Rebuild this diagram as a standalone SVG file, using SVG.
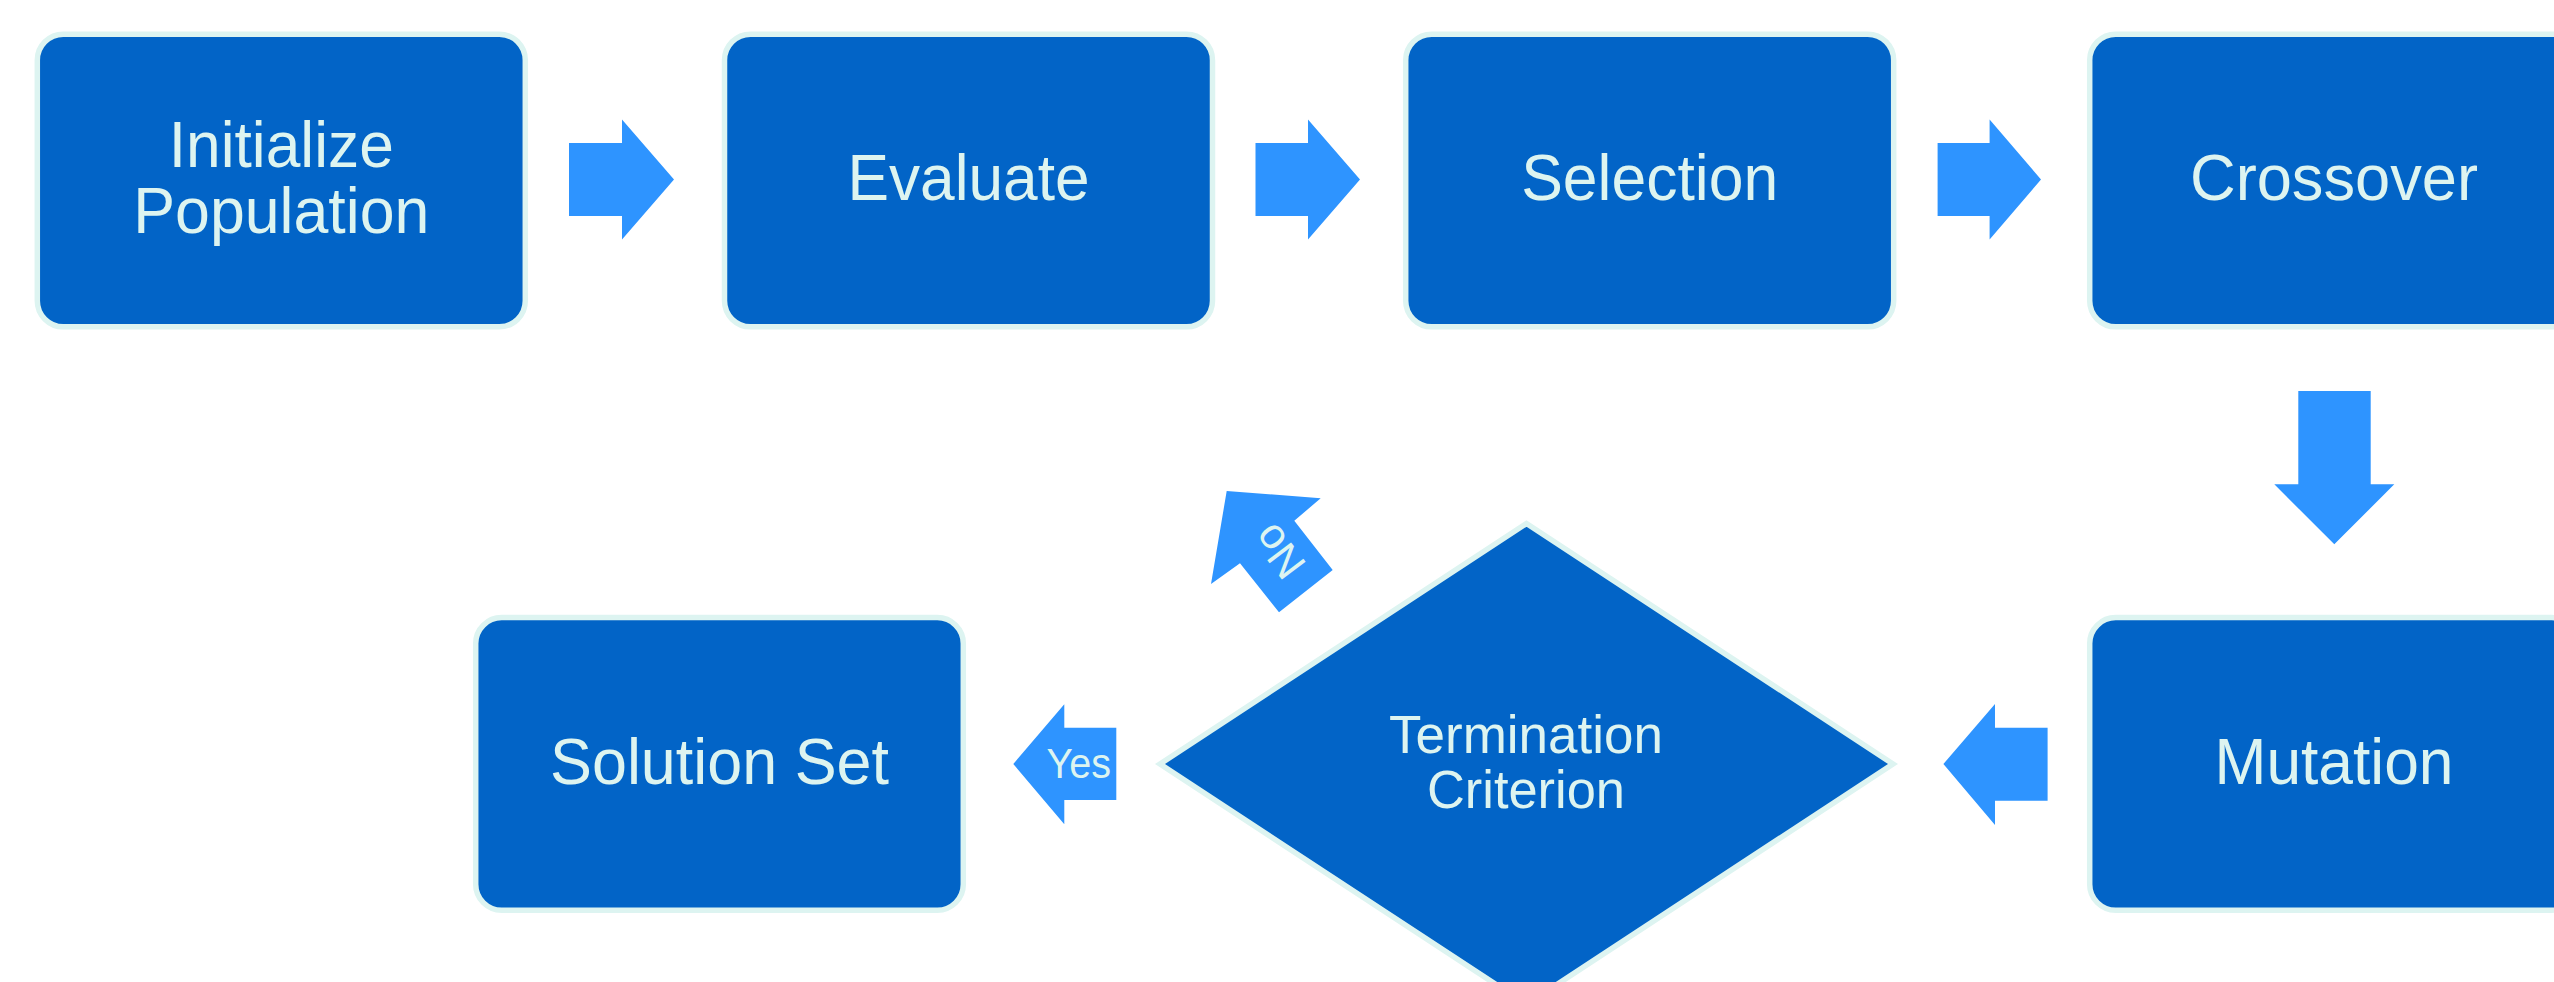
<svg xmlns="http://www.w3.org/2000/svg" width="2554" height="982" viewBox="0 0 2554 982">
  <style>
    .box { fill: #0264C7; stroke: #DDF4F1; stroke-width: 5.5; }
    .arrow { fill: #2E94FF; stroke: none; }
    .lbl { fill: #DDF4F0; font-family: "Liberation Sans", Arial, sans-serif; font-size: 65px; text-anchor: middle; }
    .dlbl { fill: #DDF4F0; font-family: "Liberation Sans", Arial, sans-serif; font-size: 54px; text-anchor: middle; }
    .albl { fill: #DDF4F0; font-family: "Liberation Sans", Arial, sans-serif; font-size: 43px; }
  </style>
  <rect x="0" y="0" width="2554" height="982" fill="#FFFFFF"/>

  <g id="connectors">
    <polygon class="arrow" points="569,143 622,143 622,119.5 674,179.5 622,239.5 622,216 569,216"/>
    <polygon class="arrow" points="1255.5,143 1308,143 1308,119.5 1360,179.5 1308,239.5 1308,216 1255.5,216"/>
    <polygon class="arrow" points="1937.6,143 1989.6,143 1989.6,119.5 2041,179.5 1989.6,239.5 1989.6,216 1937.6,216"/>
    <polygon class="arrow" points="2298.3,391 2370.7,391 2370.7,484.3 2394.3,484.3 2334.3,544.3 2274.3,484.3 2298.3,484.3"/>
    <polygon class="arrow" points="2047.6,727.7 1995,727.7 1995,704 1943.4,764 1995,825 1995,800.7 2047.6,800.7"/>
    <g id="edge-yes">
      <polygon class="arrow" points="1116.3,727.7 1064.3,727.7 1064.3,704.3 1013.3,764 1064.3,824.3 1064.3,800 1116.3,800"/>
      <text class="albl" x="1046.5" y="778.3" textLength="64.5" lengthAdjust="spacingAndGlyphs">Yes</text>
    </g>
    <g id="edge-no">
      <polygon class="arrow" points="1226.7,491 1320.7,498.3 1294.3,520.7 1332.7,570 1279,612.3 1240,563.3 1211,584"/>
      <g transform="translate(1279,551.5) rotate(-127)">
        <text class="albl" x="0" y="15" text-anchor="middle">No</text>
      </g>
    </g>
  </g>

  <g id="node-initialize">
    <rect class="box" x="37.3" y="34.2" width="488" height="292.6" rx="26" ry="26"/>
    <text class="lbl" x="281.3" y="167" textLength="225" lengthAdjust="spacingAndGlyphs">Initialize</text>
    <text class="lbl" x="281.3" y="233" textLength="296" lengthAdjust="spacingAndGlyphs">Population</text>
  </g>
  <g id="node-evaluate">
    <rect class="box" x="724.5" y="34.2" width="488" height="292.6" rx="26" ry="26"/>
    <text class="lbl" x="968.5" y="200" textLength="242" lengthAdjust="spacingAndGlyphs">Evaluate</text>
  </g>
  <g id="node-selection">
    <rect class="box" x="1405.7" y="34.2" width="488" height="292.6" rx="26" ry="26"/>
    <text class="lbl" x="1649.7" y="200" textLength="257" lengthAdjust="spacingAndGlyphs">Selection</text>
  </g>
  <g id="node-crossover">
    <rect class="box" x="2089.7" y="34.2" width="488" height="292.6" rx="26" ry="26"/>
    <text class="lbl" x="2334" y="200" textLength="288" lengthAdjust="spacingAndGlyphs">Crossover</text>
  </g>
  <g id="node-mutation">
    <rect class="box" x="2089.7" y="617.6" width="488" height="292.6" rx="26" ry="26"/>
    <text class="lbl" x="2334" y="784" textLength="239" lengthAdjust="spacingAndGlyphs">Mutation</text>
  </g>
  <g id="node-termination">
    <polygon class="box" points="1526.5,523.5 1893,764 1526.5,1004.5 1160,764"/>
    <text class="dlbl" x="1526" y="753.3" textLength="274" lengthAdjust="spacingAndGlyphs">Termination</text>
    <text class="dlbl" x="1526" y="808.3" textLength="198" lengthAdjust="spacingAndGlyphs">Criterion</text>
  </g>
  <g id="node-solution">
    <rect class="box" x="475.7" y="617.6" width="487.6" height="292.6" rx="26" ry="26"/>
    <text class="lbl" x="719.5" y="784" textLength="339" lengthAdjust="spacingAndGlyphs">Solution Set</text>
  </g>
</svg>
